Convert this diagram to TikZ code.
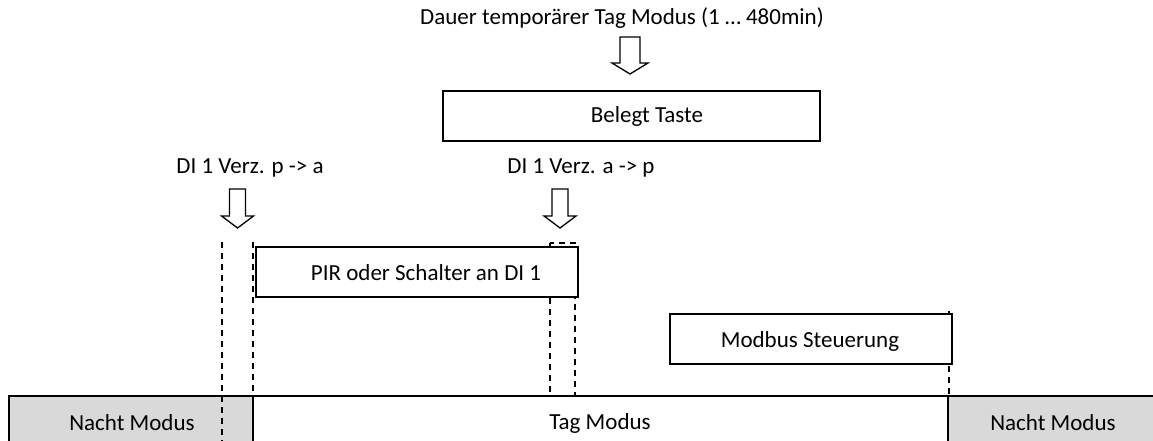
\documentclass[tikz,border=0pt]{standalone}
\usepackage{fontspec}
\setmainfont{Carlito}
\begin{document}
\begin{tikzpicture}[x=1pt,y=-1pt,
  box/.style={draw=black, line width=1.6pt, fill=white, inner sep=0pt},
  lbl/.style={font=\fontsize{23}{27}\selectfont, inner sep=0pt, anchor=center},
  dashline/.style={draw=black, line width=1.6pt, dash pattern=on 6pt off 5pt},
  arrowline/.style={draw=black, line width=1.3pt, fill=white, line join=miter},
  night/.style={draw=black, line width=1.6pt, fill=nightgray},
  day/.style={draw=black, line width=1.6pt, fill=white},
  downarrow/.pic={\draw[arrowline] (-8,0) -- (8,0) -- (8,27) -- (16,27) -- (0,39) -- (-16,27) -- (-8,27) -- cycle;},
  bigdownarrow/.pic={\draw[arrowline] (-10,0) -- (10,0) -- (10,26) -- (18,26) -- (0,37) -- (-18,26) -- (-10,26) -- cycle;}
]
\definecolor{nightgray}{HTML}{D9D9D9}
\useasboundingbox (0,0) rectangle (1153,441);
\clip (0,0) rectangle (1153,441);

% top
\node[lbl] (dauer) at (622,18) {Dauer temporärer Tag Modus (1 … 480min)};
\pic at (630,37) {bigdownarrow};
\node[box, minimum width=377pt, minimum height=50pt] (belegt) at (631.5,116) {};
\node[lbl] at (647,116) {Belegt Taste};

% labels
\node[lbl] (pa) at (250,168) {DI 1 Verz. p -> a};
\node[lbl] (ap) at (581,168) {DI 1 Verz. a -> p};
\pic at (237.5,189) {downarrow};
\pic at (560,189) {downarrow};

% dashed markers
\coordinate (d1t) at (222,242);
\coordinate (d1b) at (222,441);
\coordinate (d2t) at (253,242);
\coordinate (d2b) at (253,396);
\draw[dashline] (d1t) -- (d1b);
\draw[dashline] (d2t) -- (d2b);
\draw[dashline] (550,243) rectangle (575,396);

% PIR box
\node[box, minimum width=322pt, minimum height=50pt] (pir) at (417,272) {};
\node[lbl] at (426,273) {PIR oder Schalter an DI 1};

% Modbus
\coordinate (m1t) at (949,311);
\coordinate (m1b) at (949,396);
\draw[dashline] (m1t) -- (m1b);
\node[box, minimum width=282pt, minimum height=50pt] (modbus) at (811,339) {};
\node[lbl] at (810,341) {Modbus Steuerung};

% bottom bar
\draw[night] (9,396) rectangle (253,470);
\draw[day] (253,396) rectangle (948,470);
\draw[night] (948,396) rectangle (1170,470);
\draw[dashline] (222,396) -- (d1b);
\node[lbl] (n1) at (132,423) {Nacht Modus};
\node[lbl] (tag) at (600,423) {Tag Modus};
\node[lbl] (n2) at (1053,423) {Nacht Modus};
\end{tikzpicture}
\end{document}
